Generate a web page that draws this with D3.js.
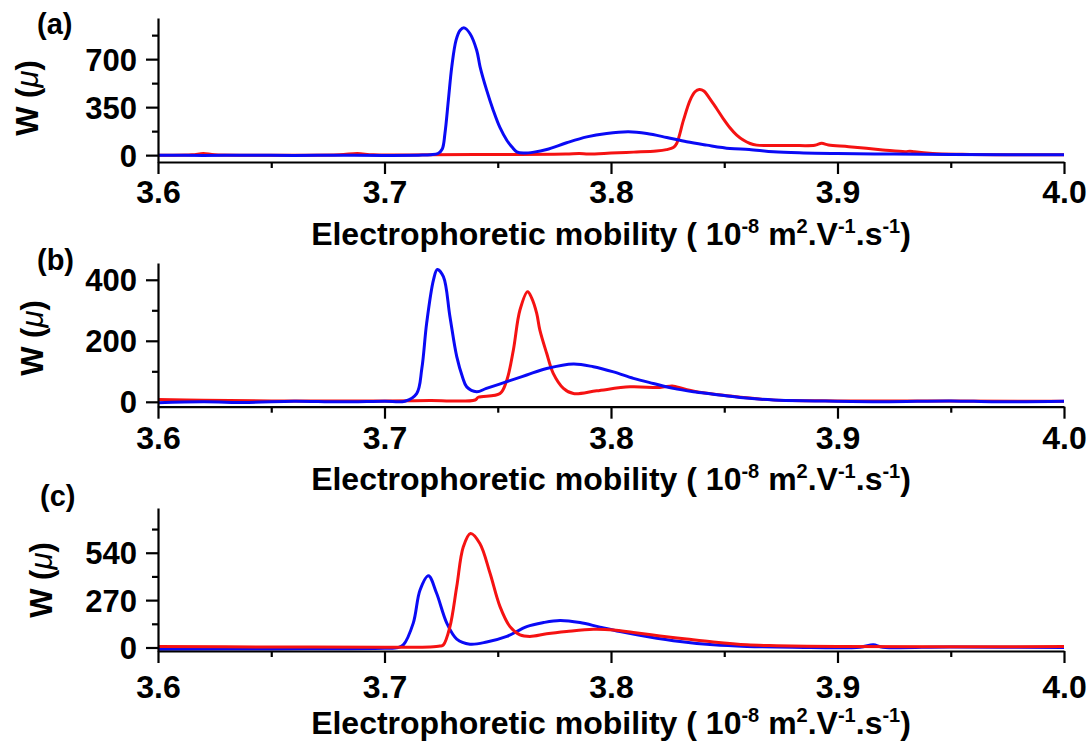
<!DOCTYPE html>
<html>
<head>
<meta charset="utf-8">
<script src="https://cdn.jsdelivr.net/npm/d3@7"></script>
<style>
  html, body { margin: 0; padding: 0; background: #fff; }
  svg { display: block; }
  text { font-family: "Liberation Sans", Arial, sans-serif; font-weight: bold; fill: #000; }
</style>
</head>
<body>
<svg id="chart" width="1091" height="742"></svg>
<script>
// ---------- data ----------
const xMajorTicks = [3.6, 3.7, 3.8, 3.9, 4.0];
const xMinorTicks = [3.65, 3.75, 3.85, 3.95];
const panelLabels = ["(a)", "(b)", "(c)"];

// panel (a)
const aYMajor = [0, 350, 700];
const aYMinor = [175, 525, 875];
const aBlueX = [3.600, 3.620, 3.640, 3.660, 3.680, 3.700, 3.715, 3.7205, 3.7236, 3.7255, 3.7267, 3.7282, 3.7297, 3.7316, 3.7334, 3.7352, 3.7377, 3.7407, 3.7422, 3.7451, 3.748, 3.7510, 3.754, 3.7565, 3.7584, 3.7613, 3.7660, 3.7716, 3.7804, 3.7893, 3.7981, 3.8077, 3.8158, 3.8246, 3.8334, 3.8423, 3.8525, 3.8610, 3.8717, 3.8850, 3.9000, 3.9250, 3.9500, 3.9750, 4.000];
const aBlueY = [0, -2, 0, -3, 0, -2, 0, 3, 12, 45, 160, 401, 644, 839, 911, 928, 887, 765, 644, 474, 328, 200, 109, 55, 24, 15, 22, 41, 90, 133, 158, 170, 158, 129, 97, 73, 49, 41, 24, 16, 12, 8, 5, 3, 2];
const aRedX = [3.600, 3.615, 3.620, 3.625, 3.650, 3.680, 3.688, 3.695, 3.720, 3.750, 3.780, 3.786, 3.790, 3.800, 3.810, 3.820, 3.8245, 3.8275, 3.829, 3.832, 3.8349, 3.8371, 3.839, 3.841, 3.8437, 3.8466, 3.8496, 3.8525, 3.8555, 3.8584, 3.8614, 3.8643, 3.870, 3.880, 3.890, 3.893, 3.896, 3.905, 3.920, 3.930, 3.932, 3.934, 3.942, 3.955, 3.970, 4.000];
const aRedY = [0, 2, 12, 2, 0, 2, 12, 2, 3, 5, 8, 12, 9, 15, 22, 30, 40, 55, 85, 255, 400, 462, 479, 468, 410, 340, 265, 200, 146, 110, 85, 73, 70, 70, 72, 86, 74, 62, 38, 25, 29, 24, 12, 6, 3, 2];

// panel (b)
const bYMajor = [0, 200, 400];
const bYMinor = [100, 300];
const bBlueX = [3.600, 3.620, 3.640, 3.660, 3.680, 3.700, 3.709, 3.7142, 3.7165, 3.7186, 3.7216, 3.7233, 3.726, 3.7289, 3.7319, 3.7345, 3.7363, 3.7407, 3.745, 3.754, 3.7628, 3.7716, 3.7834, 3.7922, 3.8011, 3.8099, 3.8187, 3.8275, 3.8364, 3.8452, 3.857, 3.8717, 3.890, 3.920, 3.950, 3.970, 4.000];
const bBlueY = [-3, 0, -2, 2, 0, 2, 2, 27, 110, 257, 399, 434, 410, 279, 148, 80, 49, 33, 44, 66, 88, 109, 124, 115, 98, 77, 60, 44, 33, 25, 14, 6, 3, 0, 3, 0, 2];
const bRedX = [3.600, 3.620, 3.650, 3.700, 3.720, 3.740, 3.7414, 3.751, 3.754, 3.7569, 3.7598, 3.7632, 3.765, 3.7672, 3.7686, 3.7716, 3.7745, 3.779, 3.7834, 3.7937, 3.8084, 3.8216, 3.827, 3.829, 3.8378, 3.8525, 3.8672, 3.880, 3.900, 4.000];
const bRedY = [8, 5, 3, 3, 4, 6, 15, 27, 71, 170, 301, 361, 340, 290, 235, 159, 93, 44, 27, 36, 49, 47, 52, 49, 33, 19, 8, 4, 3, 2];

// panel (c)
const cYMajor = [0, 270, 540];
const cYMinor = [135, 405, 675];
const cBlueX = [3.600, 3.650, 3.700, 3.706, 3.7083, 3.7127, 3.7157, 3.7194, 3.723, 3.7275, 3.7319, 3.7377, 3.7451, 3.754, 3.7628, 3.7702, 3.7775, 3.7863, 3.7951, 3.804, 3.8158, 3.8305, 3.8452, 3.860, 3.880, 3.910, 3.9158, 3.920, 3.950, 4.000];
const cBlueY = [-10, -8, -5, 0, 15, 139, 328, 409, 309, 139, 48, 19, 31, 63, 119, 142, 154, 142, 116, 91, 63, 34, 15, 6, 2, 2, 15, 2, 3, 0];
const cRedX = [3.600, 3.650, 3.700, 3.720, 3.7245, 3.726, 3.7289, 3.7319, 3.7348, 3.738, 3.7421, 3.7466, 3.751, 3.7554, 3.7598, 3.7642, 3.7716, 3.7804, 3.7922, 3.8011, 3.8099, 3.8216, 3.8334, 3.8452, 3.860, 3.8731, 3.900, 4.000];
const cRedY = [5, 3, 2, 3, 8, 15, 119, 347, 574, 650, 593, 423, 233, 119, 72, 63, 78, 91, 104, 100, 85, 66, 48, 31, 15, 10, 5, 5];

// ---------- layout ----------
const svg = d3.select("#chart");
const xLeft = 158, xRight = 1064;
const BLUE = "#0a0af5", RED = "#f51212";

const panels = [
  { label: panelLabels[0], axisY: 162, topY: 18, domain: [-50, 1000], major: aYMajor, minor: aYMinor,
    series: [[aRedX, aRedY, RED], [aBlueX, aBlueY, BLUE]], labelPos: [37, 34], yLab: [38, 98], tickOff: 41 },
  { label: panelLabels[1], axisY: 406.7, topY: 263, domain: [-16, 455], major: bYMajor, minor: bYMinor,
    series: [[bRedX, bRedY, RED], [bBlueX, bBlueY, BLUE]], labelPos: [37, 270], yLab: [43, 338], tickOff: 42 },
  { label: panelLabels[2], axisY: 651, topY: 508, domain: [-20, 795], major: cYMajor, minor: cYMinor,
    series: [[cBlueX, cBlueY, BLUE], [cRedX, cRedY, RED]], labelPos: [40, 506], yLab: [52, 580], tickOff: 47 }
];

const x = d3.scaleLinear().domain([3.6, 4.0]).range([xLeft, xRight]);

panels.forEach(p => {
  const y = d3.scaleLinear().domain(p.domain).range([p.axisY, p.topY]);
  const g = svg.append("g");

  // curves
  p.series.forEach(([xs, ys, col]) => {
    const pts = xs.map((v, i) => [v, ys[i]]);
    g.append("path")
      .datum(pts)
      .attr("fill", "none")
      .attr("stroke", col)
      .attr("stroke-width", 3)
      .attr("stroke-linejoin", "round")
      .attr("d", d3.line().x(d => x(d[0])).y(d => y(d[1])).curve(d3.curveCatmullRom.alpha(0.5)));
  });

  // x axis
  const xAx = g.append("g").attr("transform", `translate(0,${p.axisY})`)
    .call(d3.axisBottom(x).tickValues(xMajorTicks).tickSize(12).tickSizeOuter(0)
      .tickFormat(d3.format(".1f")));
  g.append("g").attr("transform", `translate(0,${p.axisY})`)
    .call(d3.axisBottom(x).tickValues(xMinorTicks).tickSize(6).tickSizeOuter(0).tickFormat(""))
    .select(".domain").remove();

  // y axis
  const yAx = g.append("g").attr("transform", `translate(${xLeft},0)`)
    .call(d3.axisLeft(y).tickValues(p.major).tickSize(12).tickSizeOuter(0).tickPadding(9)
      .tickFormat(d3.format("d")));
  g.append("g").attr("transform", `translate(${xLeft},0)`)
    .call(d3.axisLeft(y).tickValues(p.minor).tickSize(6).tickSizeOuter(0).tickFormat(""))
    .select(".domain").remove();

  g.selectAll(".domain, .tick line").attr("stroke", "#000").attr("stroke-width", 2.2);
  xAx.selectAll(".tick text")
    .attr("y", null).attr("dy", null)
    .attr("transform", `translate(0,${p.tickOff})`)
    .style("font-size", "32px").style("font-family", "Liberation Sans, Arial, sans-serif")
    .style("font-weight", "bold").attr("fill", "#000");
  yAx.selectAll(".tick text")
    .attr("dy", "0.36em")
    .style("font-size", "31px").style("font-family", "Liberation Sans, Arial, sans-serif")
    .style("font-weight", "bold").attr("fill", "#000");

  // x title
  const t = g.append("text")
    .attr("x", (xLeft + xRight) / 2)
    .attr("y", p.axisY + 83)
    .attr("text-anchor", "middle")
    .style("font-size", "32px");
  t.append("tspan").text("Electrophoretic mobility ( 10");
  t.append("tspan").attr("dy", -12).style("font-size", "20px").text("-8");
  t.append("tspan").attr("dy", 12).text(" m");
  t.append("tspan").attr("dy", -12).style("font-size", "20px").text("2");
  t.append("tspan").attr("dy", 12).text(".V");
  t.append("tspan").attr("dy", -12).style("font-size", "20px").text("-1");
  t.append("tspan").attr("dy", 12).text(".s");
  t.append("tspan").attr("dy", -12).style("font-size", "20px").text("-1");
  t.append("tspan").attr("dy", 12).text(")");

  // y title
  const yt = g.append("text")
    .attr("transform", `translate(${p.yLab[0]},${p.yLab[1]}) rotate(-90)`)
    .attr("text-anchor", "middle")
    .style("font-size", "31px");
  yt.append("tspan").text("W (");
  yt.append("tspan").style("font-style", "italic").style("font-weight", "normal").text("μ");
  yt.append("tspan").text(")");

  // panel label
  g.append("text").attr("x", p.labelPos[0]).attr("y", p.labelPos[1])
    .style("font-size", "29px").text(p.label);
});
</script>
</body>
</html>
